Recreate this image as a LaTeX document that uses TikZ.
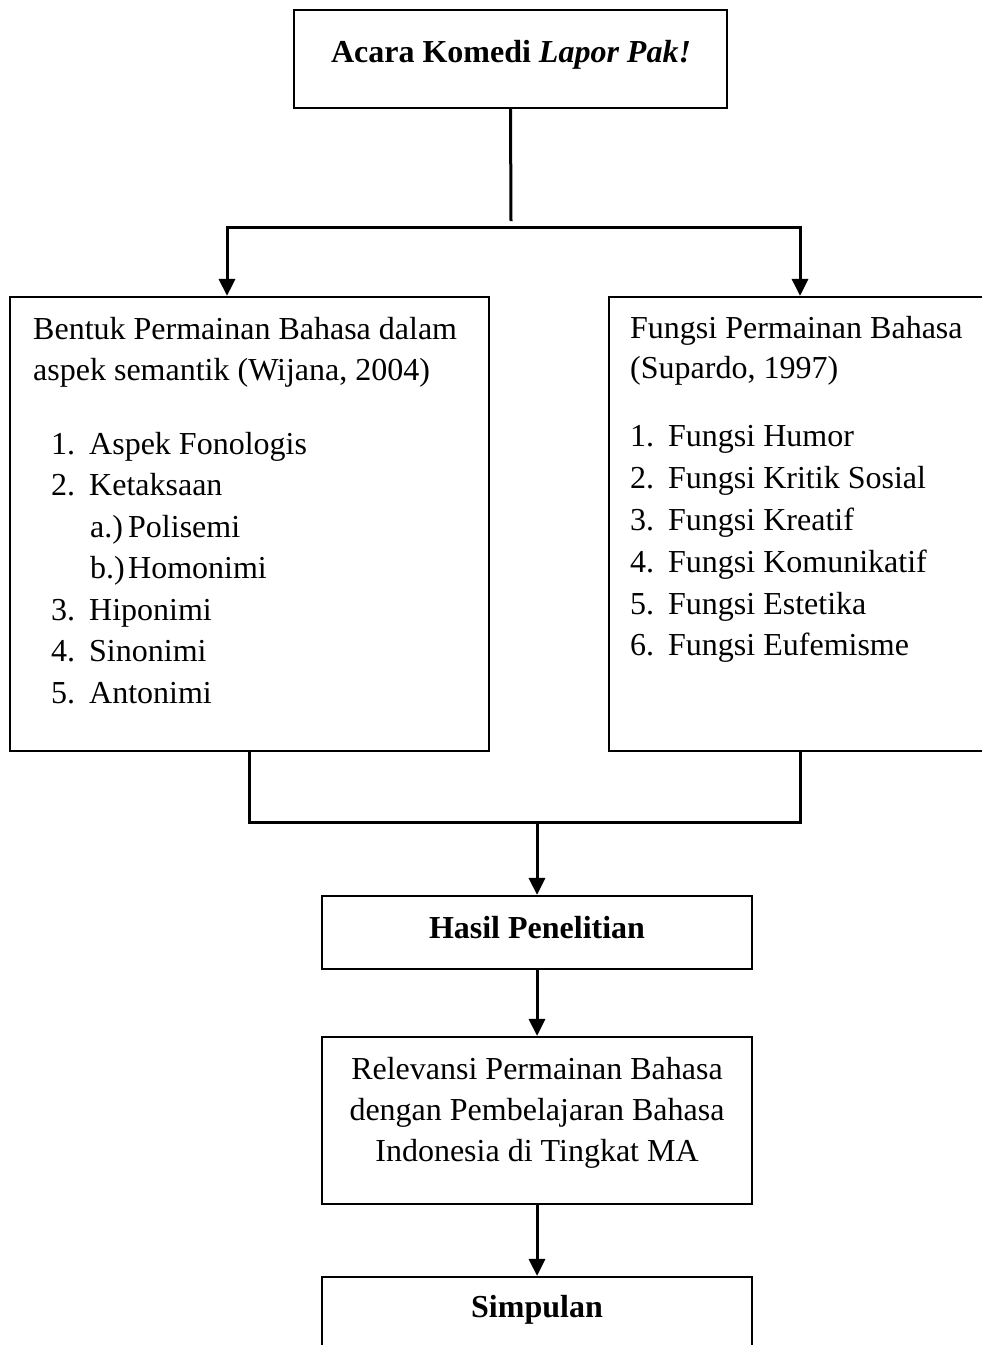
\documentclass[tikz,border=0pt]{standalone}
\usepackage{fontspec}
\setmainfont{Liberation Serif}
\usetikzlibrary{positioning,arrows.meta}

\tikzset{
  box/.style={draw,line width=2.2pt,inner sep=0pt},
  txt/.style={inner sep=0pt,anchor=base west},
  ctxt/.style={inner sep=0pt,anchor=base},
  conn/.style={line width=3pt},
  arr/.style={conn,-{Triangle[length=17pt,width=16pt]}},
}

\begin{document}
\begin{tikzpicture}[x=1pt,y=-1pt,font=\fontsize{32}{41.5}\selectfont]
\useasboundingbox (0,0) rectangle (982,1345);

% boxes
\node [box,minimum width=433pt,minimum height=98pt]  (acara)    at (510.5,59)  {};
\node [box,minimum width=479pt,minimum height=454pt] (bentuk)   at (249.5,524) {};
\node [box,minimum width=382pt,minimum height=454pt] (fungsi)   at (800,524)   {};
\node [box,minimum width=430pt,minimum height=73pt]  (hasil)    at (537,932.5) {};
\node [box,minimum width=430pt,minimum height=167pt] (relev)    at (537,1120.5) {};
\node [box,minimum width=430pt,minimum height=88pt]  (simpulan) at (537,1321)  {};

% box texts
\node [ctxt] (acara-lbl) at (511,62) {\textbf{Acara Komedi \textit{Lapor Pak!}}};

\node [txt] (bentuk-h1) at (33,339) {Bentuk Permainan Bahasa dalam};
\node [txt] (bentuk-h2) at (33,380) {aspek semantik (Wijana, 2004)};
\foreach \i/\num/\item/\ind in {
    0/1./Aspek Fonologis/0,
    1/2./Ketaksaan/0,
    2/a.)/Polisemi/1,
    3/b.)/Homonimi/1,
    4/3./Hiponimi/0,
    5/4./Sinonimi/0,
    6/5./Antonimi/0} {
  \node [txt] (bentuk-n\i) at (51+39*\ind,454+41.5*\i) {\num};
  \node [txt] (bentuk-t\i) at (89+39*\ind,454+41.5*\i) {\item};
}

\node [txt] (fungsi-h1) at (630,338) {Fungsi Permainan Bahasa};
\node [txt] (fungsi-h2) at (630,378) {(Supardo, 1997)};
\foreach \item [count=\n] in {
    Fungsi Humor,
    Fungsi Kritik Sosial,
    Fungsi Kreatif,
    Fungsi Komunikatif,
    Fungsi Estetika,
    Fungsi Eufemisme} {
  \node [txt] (fungsi-n\n) at (630,405+41.8*\n) {\n.};
  \node [txt] (fungsi-t\n) at (668,405+41.8*\n) {\item};
}

\node [ctxt] (hasil-lbl) at (537,938) {\textbf{Hasil Penelitian}};
\node [ctxt] (relev-l1) at (537,1079) {Relevansi Permainan Bahasa};
\node [ctxt] (relev-l2) at (537,1120) {dengan Pembelajaran Bahasa};
\node [ctxt] (relev-l3) at (537,1161) {Indonesia di Tingkat MA};
\node [ctxt] (simpulan-lbl) at (537,1317) {\textbf{Simpulan}};

% connectors
\coordinate (split) at (511,221);
\coordinate (fork)  at (511,227);
\coordinate (join)  at (537,822);
\draw [conn] (acara.south) -- (split);
\draw [arr] (fork) -| ([xshift=-22.5pt]bentuk.north);
\draw [arr] (fork) -| (fungsi.north);
\draw [conn] (bentuk.south) |- (join) -| (fungsi.south);
\draw [arr] (join) -- (hasil.north);
\draw [arr] (hasil.south) -- (relev.north);
\draw [arr] (relev.south) -- (simpulan.north);

\end{tikzpicture}
\end{document}
